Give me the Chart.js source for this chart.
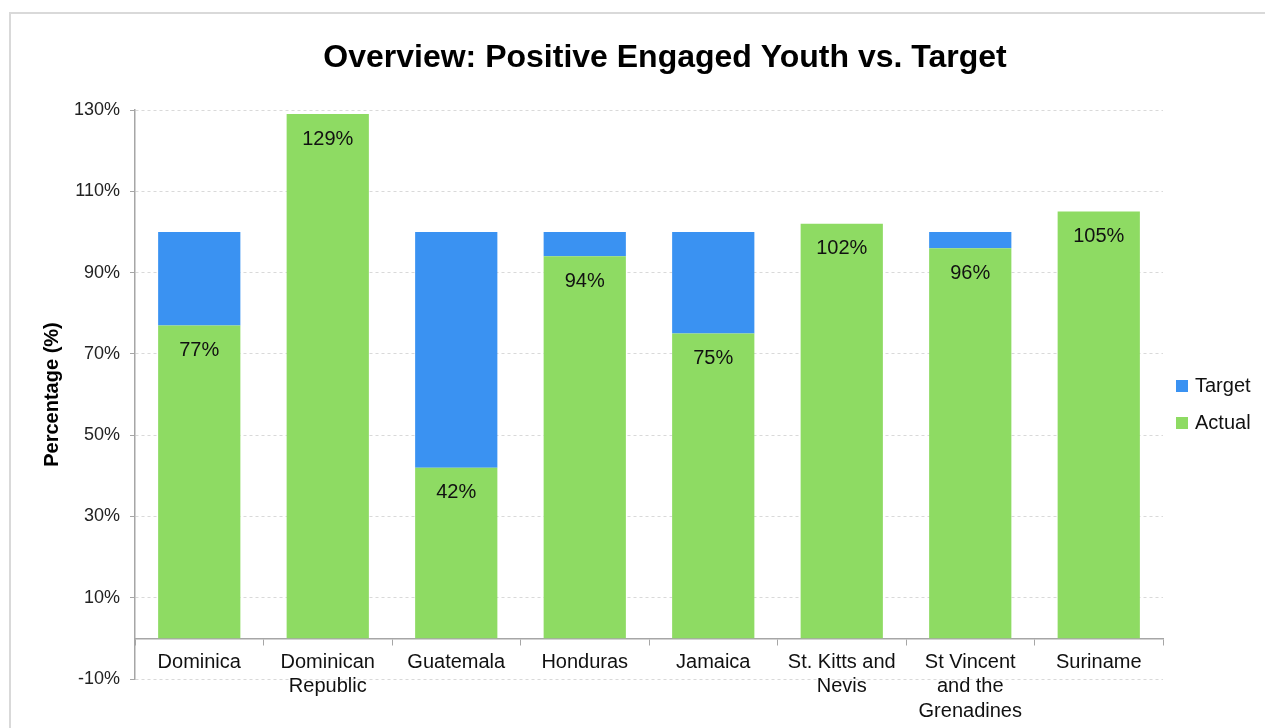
<!DOCTYPE html>
<html>
<head>
<meta charset="utf-8">
<title>Overview: Positive Engaged Youth vs. Target</title>
<script src="https://cdn.jsdelivr.net/npm/chart.js@4.4.1/dist/chart.umd.min.js"></script>
<style>
  html, body { margin: 0; padding: 0; background: #fff; overflow: hidden; }
  #wrap { position: relative; width: 1330px; height: 728px; }
</style>
</head>
<body>
<div id="wrap"><canvas id="chart" width="1330" height="728"></canvas></div>
<script>
// Countries along the category axis (multi-line labels)
const countries = [
  'Dominica',
  ['Dominican', 'Republic'],
  'Guatemala',
  'Honduras',
  'Jamaica',
  ['St. Kitts and', 'Nevis'],
  ['St Vincent', 'and the', 'Grenadines'],
  'Suriname'
];

// Positive engaged youth achieved, in percent
const actualValues = [77, 129, 42, 94, 75, 102, 96, 105];

// Target level for every country, in percent
const targetValues = [100, 100, 100, 100, 100, 100, 100, 100];

// Value-axis tick marks
const yTicks = [-10, 10, 30, 50, 70, 90, 110, 130];

// The blue segment shows how far each country still is from its target
const remainingToTarget = actualValues.map((v, i) => Math.max(0, targetValues[i] - v));

const GREEN = '#8EDB63';
const BLUE = '#3A92F2';
const FONT = '"Liberation Sans", Arial, sans-serif';

// Thin frame around the chart
const framePlugin = {
  id: 'frame',
  beforeDraw(chart) {
    const { ctx } = chart;
    ctx.save();
    ctx.strokeStyle = '#d9d9d9';
    ctx.lineWidth = 2;
    ctx.beginPath();
    ctx.moveTo(10, chart.height);
    ctx.lineTo(10, 13);
    ctx.lineTo(chart.width, 13);
    ctx.stroke();
    ctx.restore();
  }
};

// Percentage labels inside the green bars
const valueLabelPlugin = {
  id: 'valueLabels',
  afterDatasetsDraw(chart) {
    const { ctx } = chart;
    const meta = chart.getDatasetMeta(0);
    ctx.save();
    ctx.font = '20px ' + FONT;
    ctx.fillStyle = '#111';
    ctx.textAlign = 'center';
    ctx.textBaseline = 'middle';
    meta.data.forEach((bar, i) => {
      ctx.fillText(actualValues[i] + '%', bar.x, bar.y + 25);
    });
    ctx.restore();
  }
};

// Legend drawn to the right of the plot area, Target above Actual
const sideLegendPlugin = {
  id: 'sideLegend',
  afterDraw(chart) {
    const { ctx, chartArea } = chart;
    const items = [
      { text: 'Target', color: BLUE },
      { text: 'Actual', color: GREEN }
    ];
    const mid = (chartArea.top + chartArea.bottom) / 2;
    const x = chartArea.right + 13;
    ctx.save();
    ctx.font = '20px ' + FONT;
    ctx.textBaseline = 'middle';
    ctx.textAlign = 'left';
    items.forEach((it, i) => {
      const y = mid - 8.5 + i * 37;
      ctx.fillStyle = it.color;
      ctx.fillRect(x, y - 6, 12, 12);
      ctx.fillStyle = '#111';
      ctx.fillText(it.text, x + 19, y);
    });
    ctx.restore();
  }
};

new Chart(document.getElementById('chart'), {
  type: 'bar',
  data: {
    labels: countries,
    datasets: [
      {
        label: 'Actual',
        data: actualValues,
        backgroundColor: GREEN,
        barPercentage: 0.64,
        categoryPercentage: 1.0
      },
      {
        label: 'Target',
        data: remainingToTarget,
        backgroundColor: BLUE,
        barPercentage: 0.64,
        categoryPercentage: 1.0
      }
    ]
  },
  options: {
    responsive: false,
    animation: false,
    layout: { padding: { top: 0, left: 0, right: 0, bottom: 49 } },
    plugins: {
      legend: { display: false },
      tooltip: { enabled: false },
      title: {
        display: true,
        fullSize: true,
        text: 'Overview: Positive Engaged Youth vs. Target',
        color: '#000',
        font: { family: FONT, size: 32, weight: 'bold' },
        padding: { top: 39, bottom: 32.6 }
      }
    },
    scales: {
      x: {
        stacked: true,
        position: { y: 0 },
        border: { display: true, color: '#a6a6a6', width: 1.5 },
        grid: {
          offset: true,
          drawOnChartArea: false,
          drawTicks: true,
          tickLength: 6,
          tickColor: '#a6a6a6'
        },
        ticks: {
          color: '#111',
          padding: 6,
          maxRotation: 0,
          autoSkip: false,
          font: { family: FONT, size: 20, lineHeight: 1.22 }
        }
      },
      y: {
        stacked: true,
        min: -10,
        max: 130,
        afterFit(scale) { scale.width = 135; },
        afterBuildTicks(scale) { scale.ticks = yTicks.map(v => ({ value: v })); },
        border: { display: true, color: '#a6a6a6', width: 1.5, dash: [3, 3] },
        grid: {
          color: '#d9d9d9',
          tickBorderDash: [],
          tickColor: '#a6a6a6',
          tickLength: 5,
          drawTicks: true
        },
        ticks: {
          color: '#222',
          padding: 10,
          font: { family: FONT, size: 18 },
          callback: v => v + '%'
        },
        title: {
          display: true,
          text: 'Percentage (%)',
          color: '#000',
          font: { family: FONT, size: 20, weight: 'bold' },
          padding: { top: 40, bottom: 0 }
        }
      },
      // Empty right-hand strip that keeps room for the legend
      legendSpace: {
        type: 'linear',
        position: 'right',
        afterFit(scale) { scale.width = 167; },
        border: { display: false },
        grid: { display: false },
        ticks: { display: false }
      }
    }
  },
  plugins: [framePlugin, valueLabelPlugin, sideLegendPlugin]
});
</script>
</body>
</html>
